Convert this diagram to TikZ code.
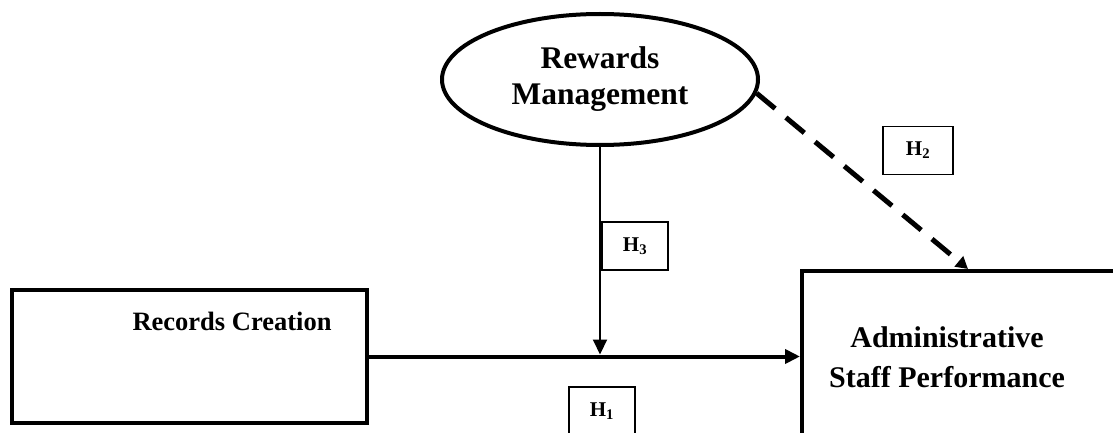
\documentclass[tikz,border=0pt]{standalone}
\usepackage{fontspec}
\setmainfont{Liberation Serif}
\usetikzlibrary{arrows.meta,positioning,shapes.geometric}

\begin{document}
\begin{tikzpicture}[x=1pt,y=1pt,
  every node/.style={font=\bfseries},
  varbox/.style={draw,line width=4pt,inner sep=0pt},
  hypbox/.style={draw,line width=1.8pt,minimum width=66pt,minimum height=48pt,
                 font=\bfseries\fontsize{21}{24}\selectfont},
  direct/.style={-{Triangle[length=15pt,width=14pt]},line width=4pt},
  moder/.style={-{Triangle[length=15pt,width=14pt]},line width=2pt},
  dashy/.style={-{Triangle[length=12pt,width=13pt]},line width=5pt,
                dash pattern=on 24pt off 14pt},
  lbl/.style={align=center}]
\useasboundingbox (0,0) rectangle (1113,432);
\clip (0,0) rectangle (1113,432);
\node[ellipse,draw,line width=4pt,minimum width=316pt,minimum height=131pt,inner sep=0pt,
      lbl,font=\bfseries\fontsize{31.5}{36}\selectfont] (rm) at (600,352.5) {Rewards\\Management};
\node[varbox,minimum width=355pt,minimum height=133pt] (rc) at (189.5,75.5) {};
\node[font=\bfseries\fontsize{26.5}{30}\selectfont] (rctext) at (232,111) {Records Creation};
\node[varbox,minimum width=360pt,minimum height=200pt,anchor=north west] (asp) at (800,163) {};
\node[lbl,font=\bfseries\fontsize{30}{40}\selectfont] (asptext) at (947,75) {Administrative\\Staff Performance};
\coordinate (meet) at (rc.east -| rm.south);
\coordinate (dtip) at (968,163);
\draw[direct] (rc.east) -- (rc.east -| asp.west);
\draw[moder,shorten >=2pt] (rm.south) -- (meet);
\draw[dashy] (rm.-5) -- (dtip);
\node[hypbox] (h3) at (635,186) {H\textsubscript{3}};
\node[hypbox,minimum width=70pt] (h2) at (918,281.5) {H\textsubscript{2}};
\node[hypbox] (h1) at (602,21) {H\textsubscript{1}};
\end{tikzpicture}
\end{document}
